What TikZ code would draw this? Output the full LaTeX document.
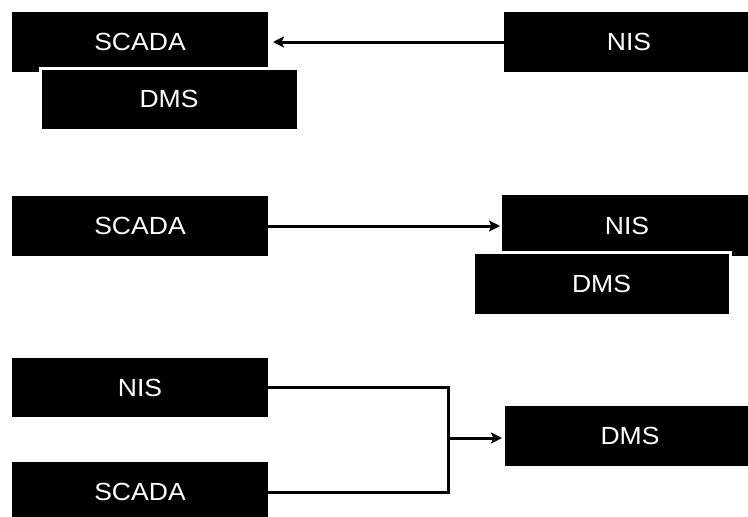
\documentclass[tikz,border=0pt]{standalone}
\usepackage{fontspec}
\setmainfont[FakeStretch=1.07]{Liberation Sans}
\usetikzlibrary{arrows.meta}
\begin{document}
\begin{tikzpicture}[x=1pt,y=-1pt,
  blk/.style={fill=black,text=white,inner sep=0pt,outer sep=0pt,anchor=north west,
    font=\fontsize{24.8}{25}\selectfont},
  blkw/.style={blk,draw=white,line width=3pt},
  conn/.style={line width=3pt},
  arr/.style={conn,-{Stealth[length=11pt,width=11pt,inset=2.5pt]}}]
\useasboundingbox (0,0) rectangle (748,517);
% row 1
\node[blk,minimum width=256pt,minimum height=60pt] (scada1) at (12,12) {SCADA};
\node[blkw,minimum width=258pt,minimum height=62pt] (dms1) at (40,68) {DMS};
\node[blk,minimum width=250pt,minimum height=60pt] (nis1) at (504,12) {NIS};
\draw[arr,shorten >=5pt] (nis1.west) -- (scada1.east |- nis1.west);
% row 2
\node[blk,minimum width=256pt,minimum height=60pt] (scada2) at (12,196) {SCADA};
\node[blk,minimum width=250pt,minimum height=61pt] (nis2) at (502,195) {NIS};
\node[blkw,minimum width=257pt,minimum height=63pt] (dms2) at (473,252) {DMS};
\draw[arr,shorten >=2pt] (scada2.east) -- (nis2.west |- scada2.east);
% row 3
\node[blk,minimum width=256pt,minimum height=59pt] (nis3) at (12,358) {NIS};
\node[blk,minimum width=256pt,minimum height=60pt] (scada3) at (12,462) {SCADA};
\node[blk,minimum width=250pt,minimum height=60pt] (dms3) at (505,406) {DMS};
\coordinate (j) at (448,438);
\draw[conn] (nis3.east) -| (j) |- (scada3.east);
\draw[arr,shorten >=3pt] (j) -- (j -| dms3.west);
\end{tikzpicture}
\end{document}
